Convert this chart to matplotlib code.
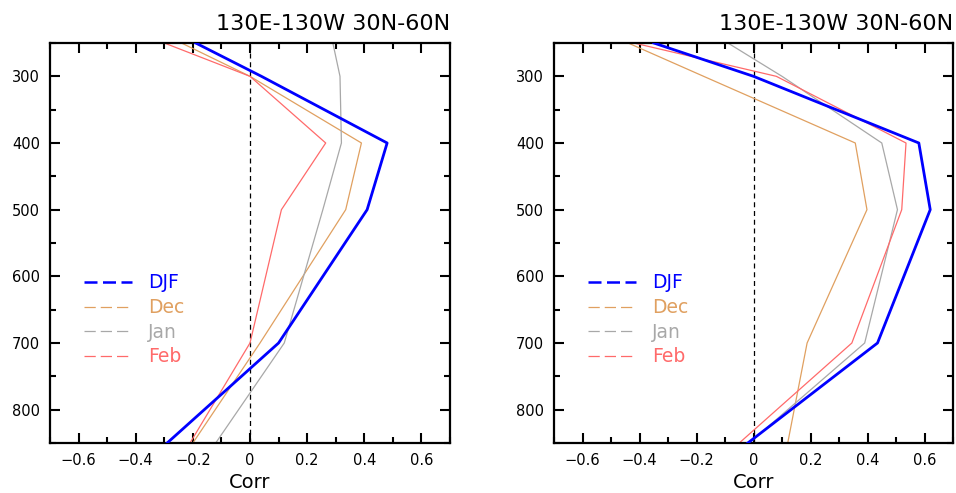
import matplotlib
matplotlib.use("Agg")
import matplotlib.pyplot as plt
from matplotlib.lines import Line2D
from matplotlib.ticker import MultipleLocator

# pressure levels (hPa)
levels = [250, 300, 400, 500, 700, 850]

# left panel correlations
djf_l = [-0.19, 0.04, 0.48, 0.41, 0.10, -0.29]
dec_l = [-0.24, 0.00, 0.39, 0.335, 0.035, -0.20]
jan_l = [0.29, 0.315, 0.32, 0.255, 0.12, -0.12]
feb_l = [-0.30, 0.00, 0.265, 0.11, 0.00, -0.21]

# right panel correlations
djf_r = [-0.35, 0.00, 0.58, 0.62, 0.435, -0.02]
dec_r = [-0.44, -0.175, 0.357, 0.398, 0.188, 0.12]
jan_r = [-0.09, 0.10, 0.45, 0.505, 0.39, -0.015]
feb_r = [-0.42, 0.08, 0.535, 0.52, 0.345, -0.05]

title = "130E-130W 30N-60N"
names = ["DJF", "Dec", "Jan", "Feb"]
colors = ["#0000ff", "#e0a060", "#a8a8a8", "#ff6a6a"]
widths = [2.0, 0.9, 0.9, 0.9]

plt.rcParams['font.family'] = ['DejaVu Sans']

fig = plt.figure(figsize=(9.56, 4.93), dpi=100)
ax1 = fig.add_axes([0.0523, 0.1014, 0.4184, 0.8114])
ax2 = fig.add_axes([0.5795, 0.1014, 0.4174, 0.8114])

panels = [(ax1, [djf_l, dec_l, jan_l, feb_l]), (ax2, [djf_r, dec_r, jan_r, feb_r])]

for ax, series in panels:
    # draw months first, DJF on top
    for i in [1, 2, 3, 0]:
        ax.plot(series[i], levels, color=colors[i], lw=widths[i], zorder=3 if i == 0 else 2)
    ax.axvline(0, color="black", ls=(0, (4, 3)), lw=0.9, zorder=1)

    ax.set_xlim(-0.7, 0.7)
    ax.set_ylim(850, 250)
    ax.xaxis.set_minor_locator(MultipleLocator(0.1))
    ax.yaxis.set_major_locator(MultipleLocator(100))
    ax.yaxis.set_minor_locator(MultipleLocator(50))
    ax.set_xticks([-0.6, -0.4, -0.2, 0, 0.2, 0.4, 0.6])
    ax.set_xticklabels(["\u22120.6", "\u22120.4", "\u22120.2", "0", "0.2", "0.4", "0.6"])
    ax.tick_params(which="both", direction="in", top=True, right=True, width=1.5)
    ax.tick_params(which="major", length=7, labelsize=10.5, pad=7)
    ax.tick_params(which="minor", length=4)
    for s in ax.spines.values():
        s.set_linewidth(1.6)
    ax.set_xlabel("Corr", fontsize=14, labelpad=4)
    ax.set_title(title, loc="right", fontsize=16, pad=9)

    handles = [Line2D([0], [0], color=colors[i], lw=1.8 if i == 0 else 0.9,
                      ls=(0, (5.2, 2.2)) if i == 0 else (0, (9.0, 4.0)))
               for i in range(4)]
    leg = ax.legend(handles, names, loc="upper left", bbox_to_anchor=(0.042, 0.466),
                    frameon=False, handlelength=2.6, handletextpad=0.85,
                    labelspacing=0.3, fontsize=13.5, labelcolor=colors)

fig.savefig("out.png", dpi=100)
